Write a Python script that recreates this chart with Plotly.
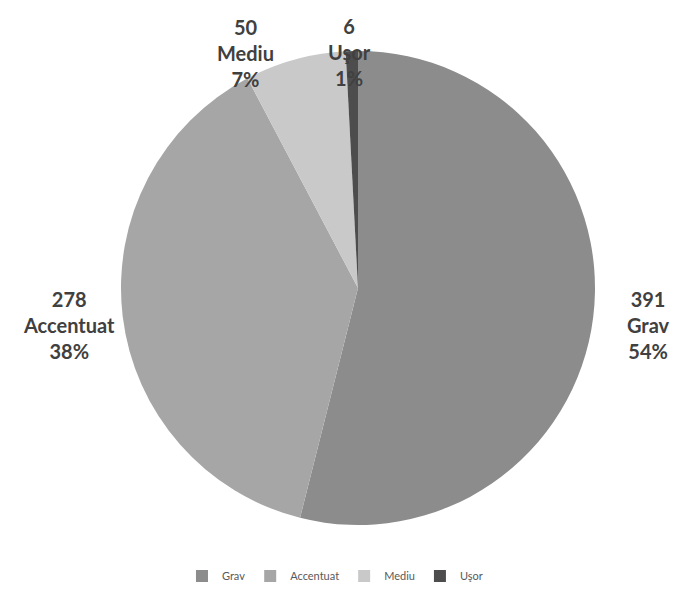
import math
import plotly.graph_objects as go

# Date
categorii = ['Grav', 'Accentuat', 'Mediu', 'Uşor']
valori = [391, 278, 50, 6]
culori = ['#8c8c8c', '#a6a6a6', '#c9c9c9', '#4d4d4d']

# geometrie (px) si deplasari ale etichetelor fata de marginea feliei
W, H = 674, 595
cx, cy, r = 358, 288, 237
offset_etichete = [(55, 8), (-54, 9), (-50, -7), (-2, 1)]

fig = go.Figure(data=[go.Pie(
    labels=categorii,
    values=valori,
    sort=False,
    direction='clockwise',
    rotation=0,
    marker=dict(colors=culori, line=dict(width=0)),
    textinfo='none',
    domain=dict(x=[(cx - r) / W, (cx + r) / W],
                y=[(H - cy - r) / H, (H - cy + r) / H]),
    hovertemplate='%{label}: %{value}<extra></extra>',
)])

# Etichete exterioare (valoare, categorie, procent)
total = sum(valori)
cumul = 0
for cat, val, (dx, dy) in zip(categorii, valori, offset_etichete):
    unghi = math.radians((cumul + val / 2) / total * 360)
    cumul += val
    ex = cx + r * math.sin(unghi)
    ey = cy - r * math.cos(unghi)
    fig.add_annotation(
        x=ex / W, y=1 - ey / H, xref='paper', yref='paper',
        xshift=dx, yshift=-dy,
        text=f'<b>{val}<br>{cat}<br>{round(val / total * 100)}%</b>',
        showarrow=False, xanchor='center', yanchor='middle',
        font=dict(family='Lato, Open Sans, sans-serif', size=20, color='#404040'),
    )

fig.update_layout(
    width=W,
    height=H,
    margin=dict(l=0, r=0, t=0, b=0),
    paper_bgcolor='white',
    plot_bgcolor='white',
    showlegend=True,
    legend=dict(
        orientation='h',
        x=0.497, xanchor='center',
        y=0.032, yanchor='middle',
        font=dict(family='Lato, Open Sans, sans-serif', size=11, color='#595959'),
        itemwidth=30,
        tracegroupgap=0,
    ),
)

# fara marginea implicita a paginii, ca graficul sa inceapa din colt
fig.write_html("out.html", config={'displayModeBar': False},
               post_script="document.body.style.margin='0';")
